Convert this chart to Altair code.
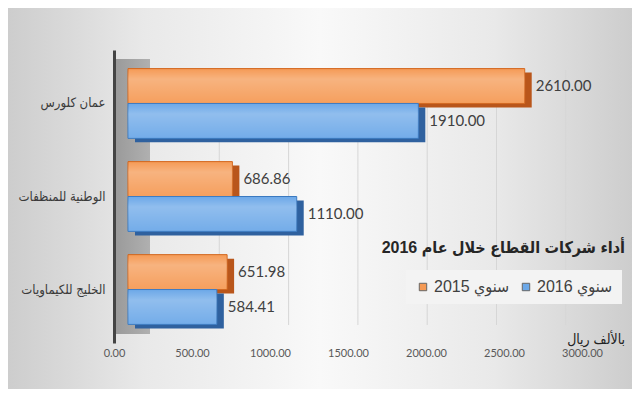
import altair as alt
import pandas as pd

categories = ["عمان كلورس", "الوطنية للمنظفات", "الخليج للكيماويات"]
series_names = ["سنوي 2015", "سنوي 2016"]
values_2015 = [2610.00, 686.86, 651.98]
values_2016 = [1910.00, 1110.00, 584.41]
tick_values = [0, 500, 1000, 1500, 2000, 2500, 3000]
grid_values = [500, 1000, 1500, 2000, 2500, 3000]
title_text = "أداء شركات القطاع خلال عام 2016"
unit_text = "بالألف ريال"

rows = []
for c, a, b in zip(categories, values_2015, values_2016):
    rows.append({"cat": c, "series": series_names[0], "value": a})
    rows.append({"cat": c, "series": series_names[1], "value": b})
df = pd.DataFrame(rows)
df["label"] = df["value"].map(lambda v: f"{v:.2f}")

ORANGE = "#F59A55"
BLUE = "#6CA8E8"
ORANGE_D = "#B9561B"
BLUE_D = "#2F619F"
ORANGE_S = "#D2661D"
BLUE_S = "#3A79C0"
AR_FONT = "Liberation Sans, DejaVu Sans Condensed, DejaVu Sans"

W, H = 486, 293

bar_scale = alt.Scale(domain=[-92.1, 3105.3], nice=False, zero=False)
band = dict(paddingInner=0.25, paddingOuter=0.2)
y_axis = alt.Y("cat:N", sort=categories, title=None,
               scale=alt.Scale(**band),
               axis=alt.Axis(domainColor="#444444", domainWidth=3, ticks=False, zindex=2,
                             orient="left",
                             labelPadding=9, labelFontSize=13, labelFont=AR_FONT,
                             labelColor="#3a3a3a", labelLimit=200))
y_plain = alt.Y("cat:N", sort=categories, title=None, axis=None, scale=alt.Scale(**band))
yoff = alt.YOffset("series:N", sort=series_names)

one = alt.Data(values=[{"a": 1}])

bg = alt.Chart(one).mark_rect(
    clip=False,
    fill=alt.LinearGradient(gradient="linear", x1=0, x2=1, y1=0, y2=0, stops=[
        alt.GradientStop(offset=0, color="#cdcdcd"),
        alt.GradientStop(offset=0.22, color="#e9e9e9"),
        alt.GradientStop(offset=0.5, color="#f9f9f9"),
        alt.GradientStop(offset=0.78, color="#e9e9e9"),
        alt.GradientStop(offset=1, color="#cdcdcd")]),
).encode(x=alt.value(-106), x2=alt.value(518), y=alt.value(-42), y2=alt.value(339))

wall = alt.Chart(one).mark_rect(
    fill=alt.LinearGradient(gradient="linear", x1=0, x2=1, y1=0, y2=0, stops=[
        alt.GradientStop(offset=0, color="#999999"),
        alt.GradientStop(offset=1, color="#b0b0b0")]),
).encode(x=alt.value(0), x2=alt.value(36), y=alt.value(9), y2=alt.value(284))

grid = alt.Chart(pd.DataFrame({"g": grid_values})).mark_rule(color="#d6d6d6", strokeWidth=1).encode(
    x=alt.X("g:Q", scale=alt.Scale(domain=[-259.7, 3246.8], nice=False, zero=False), axis=None),
    y=alt.value(20), y2=alt.value(275))

shadow = alt.Chart(df).mark_bar(xOffset=7, x2Offset=7).encode(
    x=alt.X("value:Q", scale=bar_scale, axis=None),
    x2=alt.datum(0),
    y=alt.Y("cat:N", sort=categories, title=None, axis=None,
            scale=alt.Scale(range=[4, H + 4], **band)),
    yOffset=yoff,
    color=alt.condition(alt.datum.series == series_names[0], alt.value(ORANGE_D), alt.value(BLUE_D)))

front = alt.Chart(df).mark_bar(strokeWidth=1).encode(
    x=alt.X("value:Q", scale=bar_scale, axis=None),
    x2=alt.datum(0),
    y=y_axis, yOffset=yoff,
    color=alt.Color("series:N", scale=alt.Scale(domain=series_names, range=[ORANGE, BLUE]),
                    legend=alt.Legend(title=None, orient="none", legendX=292, legendY=220,
                                      direction="horizontal", fillColor="#f3f3f3", padding=9,
                                      symbolType="square", symbolSize=55, symbolStrokeWidth=1,
                                      symbolStrokeColor="#666666",
                                      labelFontSize=16, labelFont=AR_FONT,
                                      labelColor="#404040", columnPadding=8, labelOffset=3)),
    stroke=alt.condition(alt.datum.series == series_names[0], alt.value(ORANGE_S), alt.value(BLUE_S)))

shine = alt.Chart(df).mark_bar(
    fill=alt.LinearGradient(gradient="linear", x1=0, x2=0, y1=0, y2=1, stops=[
        alt.GradientStop(offset=0, color="rgba(255,255,255,0)"),
        alt.GradientStop(offset=0.3, color="rgba(255,255,255,0.25)"),
        alt.GradientStop(offset=1, color="rgba(255,255,255,0.05)")]),
).encode(
    x=alt.X("value:Q", scale=bar_scale, axis=None),
    x2=alt.datum(0),
    y=y_plain, yOffset=yoff)

vlabels = alt.Chart(df).mark_text(align="left", baseline="middle", dx=11, fontSize=15,
                                  font="Lato", color="#404040").encode(
    x=alt.X("value:Q", scale=bar_scale, axis=None),
    y=y_plain, yOffset=yoff, text="label:N")

xaxis = alt.Chart(pd.DataFrame({"t": tick_values})).mark_point(opacity=0).encode(
    x=alt.X("t:Q", scale=alt.Scale(domain=[0, 3115.4], nice=False, zero=False),
            axis=alt.Axis(orient="bottom", values=tick_values, format=".2f", grid=False,
                          domain=False, ticks=False, labelPadding=4, labelFontSize=11,
                          labelFont="Lato", labelColor="#595959", title=None, zindex=2,
                          labelFlush=False, labelOverlap=False)),
    y=alt.value(0))

title = alt.Chart(one).mark_text(text=title_text, align="right", baseline="middle",
                                 fontSize=16, fontWeight="bold",
                                 font=AR_FONT, color="#262626").encode(
    x=alt.value(511), y=alt.value(198))

unit = alt.Chart(one).mark_text(text=unit_text, align="right", baseline="middle",
                                fontSize=14, font=AR_FONT, color="#222222").encode(
    x=alt.value(511), y=alt.value(290))

chart = alt.layer(bg, wall, grid, shadow, front, shine, vlabels, xaxis, title, unit).resolve_scale(
    x="independent", y="independent"
).properties(
    width=W, height=H,
    autosize=alt.AutoSizeParams(type="none"),
    padding={"left": 106, "top": 42, "right": 32, "bottom": 46},
).configure_view(stroke=None).configure(background="#ffffff")

chart.save("out.html", embed_options={"renderer": "svg", "actions": False})
